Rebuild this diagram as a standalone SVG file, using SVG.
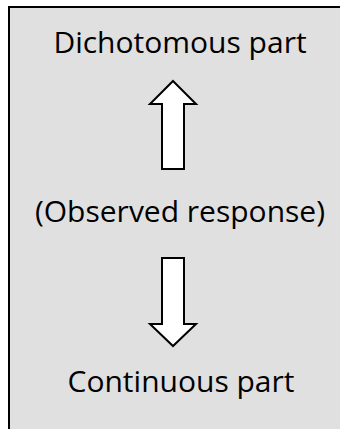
<svg xmlns="http://www.w3.org/2000/svg" width="340" height="429" viewBox="0 0 340 429">
<style>
.lbl{font-family:"Open Sans","Noto Sans",sans-serif;font-size:30px;fill:#000;text-anchor:middle}
.arr{fill:#fff;stroke:#000;stroke-width:2;stroke-linejoin:miter}
</style>
<g id="frame"><rect x="9" y="7" width="345" height="430" fill="#e0e0e0" stroke="#000" stroke-width="2"/></g>
<g id="dichotomous"><text class="lbl" x="180" y="53">Dichotomous part</text></g>
<g id="observed"><text class="lbl" x="180" y="222">(Observed response)</text></g>
<g id="continuous"><text class="lbl" x="181" y="392">Continuous part</text></g>
<g id="connectors">
<polygon class="arr" points="173,81 196,104 184,104 184,169 162,169 162,104 150,104"/>
<polygon class="arr" points="162,258 184,258 184,324 196,324 173,346 150,324 162,324"/>
</g>
</svg>
